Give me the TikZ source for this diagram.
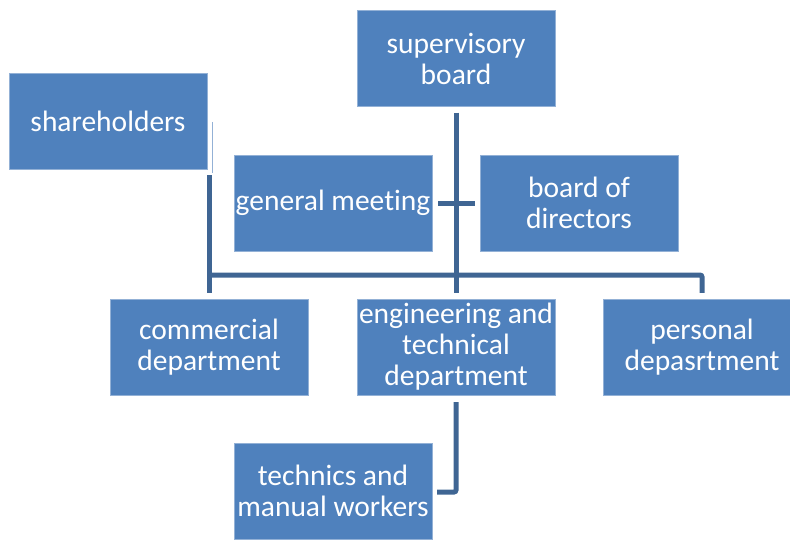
\documentclass[tikz,border=0pt]{standalone}
\usepackage{fontspec}
\setmainfont{Carlito}[Ligatures=NoCommon]
\usetikzlibrary{calc}
\definecolor{boxblue}{HTML}{4F81BD}
\definecolor{lineblue}{HTML}{3F6593}
\definecolor{edgeblue}{HTML}{93B1D6}
\begin{document}
\begin{tikzpicture}[x=1pt,y=-1pt,
  orgbox/.style={rectangle, fill=boxblue, draw=edgeblue, line width=0.4pt,
    text=white, minimum width=198pt, minimum height=96pt, align=center,
    inner sep=0pt, font=\fontsize{29.5}{31}\selectfont},
  conn/.style={draw=lineblue, line width=5pt},
  faint/.style={draw=edgeblue, line width=0.8pt}]
\useasboundingbox (0,0) rectangle (790,539);
\clip (0,0) rectangle (790,539);
\coordinate (busy) at (0,275);
% nodes
\node[orgbox] (sup)   at (456,58.5) {supervisory\\board};
\node[orgbox] (share) at (108,121)  {shareholders};
\node[orgbox] (gm)    at (333,203)  {general meeting};
\node[orgbox] (bod)   at (579,203)  {board of\\directors};
\node[orgbox] (com)   at (209,347)  {commercial\\department};
\node[orgbox] (eng)   at (456,347)  {engineering and\\technical\\department};
\node[orgbox] (pers)  at (702,347)  {personal\\depasrtment};
\node[orgbox] (tech)  at (333,491)  {technics and\\manual workers};
% connectors
\draw[conn] ($(sup.south)+(0,6)$) -- ($(eng.north)+(0,-6)$);
\draw[conn] ($(com.north |- share.south)+(0.5,6)$) -- ($(com.north)+(0.5,-6)$);
\draw[conn, rounded corners=2pt] ($(com.north |- busy)+(-2,0)$) -- (pers.north |- busy) -- ($(pers.north)+(0,-6)$);
\draw[conn] ($(gm.east)+(6,0)$) -- ($(bod.west)+(-5,0)$);
\draw[conn, rounded corners=2pt] ($(eng.south)+(0,7)$) |- ($(tech.east)+(5,1)$);
\draw[faint] ($(share.north east)+(5,49)$) -- ($(share.north east)+(5,100)$);
\end{tikzpicture}
\end{document}
